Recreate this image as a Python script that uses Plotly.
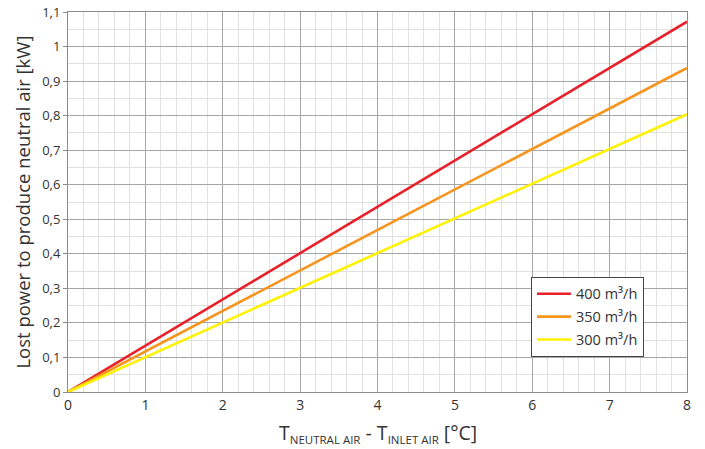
import plotly.graph_objects as go

# Data
x_vals = [0, 8]
series_names = ["400 m³/h", "350 m³/h", "300 m³/h"]
y_400 = [0, 1.072]
y_350 = [0, 0.938]
y_300 = [0, 0.804]
series_values = [y_400, y_350, y_300]
colors = ["#e8202a", "#f7941d", "#fff200"]

x_ticks = [0, 1, 2, 3, 4, 5, 6, 7, 8]
y_tick_vals = [round(i * 0.1, 1) for i in range(12)]
y_tick_text = ["0", "0,1", "0,2", "0,3", "0,4", "0,5", "0,6", "0,7", "0,8", "0,9", "1", "1,1"]

x_title = ("T<sub><span style='font-size:11.5px'>NEUTRAL AIR</span></sub> - "
           "T<sub><span style='font-size:11.5px'>INLET AIR</span></sub> [°C]")
y_title = "Lost power to produce neutral air [kW]"

fig = go.Figure()
for i, (name, ys, c) in enumerate(zip(series_names, series_values, colors)):
    fig.add_trace(go.Scatter(x=x_vals, y=ys, mode="lines", name=name,
                             legendgroup=f"g{i}",
                             line=dict(color=c, width=2.6)))

font_family = "Open Sans, Noto Sans, sans-serif"
fig.update_layout(
    width=705, height=449,
    margin=dict(l=68, r=18, t=12, b=57, autoexpand=False),
    paper_bgcolor="white", plot_bgcolor="white",
    font=dict(family=font_family, color="#333333", size=13),
    showlegend=True,
    legend=dict(x=0.748, y=0.303, xanchor="left", yanchor="top",
                bgcolor="white", bordercolor="#444444", borderwidth=1,
                font=dict(size=14.5, color="#333333"),
                itemwidth=34, tracegroupgap=1, entrywidth=122),
    xaxis=dict(range=[0, 8], tickvals=x_ticks, showgrid=True, automargin=False,
               gridcolor="#a6a6a6", gridwidth=1,
               minor=dict(dtick=0.2, showgrid=True, gridcolor="#e0e0e0", gridwidth=1),
               showline=True, linecolor="#8c8c8c", mirror=True,
               ticks="", zeroline=False,
               tickfont=dict(size=14)),
    yaxis=dict(range=[0, 1.1], tickvals=y_tick_vals, ticktext=y_tick_text,
               automargin=False,
               showgrid=True, gridcolor="#a6a6a6", gridwidth=1,
               minor=dict(dtick=0.05, showgrid=True, gridcolor="#e0e0e0", gridwidth=1),
               showline=True, linecolor="#8c8c8c", mirror=True,
               ticks="outside", ticklen=4, tickcolor="#8c8c8c",
               zeroline=False, tickfont=dict(size=13)),
    annotations=[
        dict(text=x_title, xref="paper", yref="paper", x=0.5, y=-0.065,
             xanchor="center", yanchor="top", showarrow=False,
             font=dict(size=19.5, color="#333333")),
        dict(text=y_title, xref="paper", yref="paper", x=-0.075, y=0.5,
             xanchor="center", yanchor="middle", textangle=-90, showarrow=False,
             font=dict(size=18.5, color="#333333")),
    ],
)

fig.write_html("out.html", config={"displayModeBar": False},
               post_script="document.body.style.margin='0px';document.body.style.padding='0px';")
